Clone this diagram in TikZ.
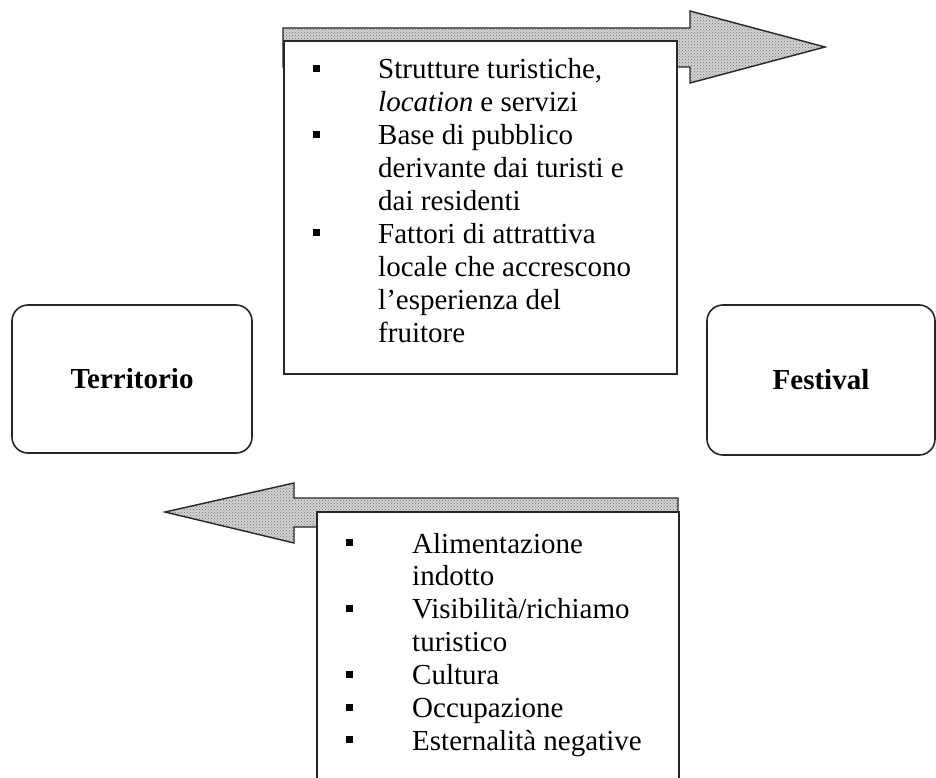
\documentclass[tikz,border=0pt]{standalone}
\usepackage{fontspec}
\setmainfont{Liberation Serif}
\usetikzlibrary{patterns}
\newcommand\sqb[1]{\makebox[#1][l]{\raisebox{7pt}{\rule{7pt}{7pt}}}}
\newcommand\gap[1]{\hspace*{#1}}
\tikzset{
  boxline/.style={draw=black!85, line width=1.6pt},
  endbox/.style={boxline, rounded corners=16pt, minimum width=240pt, minimum height=148pt,
    font=\fontsize{29}{34}\selectfont\bfseries, inner sep=0pt},
  listbox/.style={boxline, fill=white, inner sep=0pt, anchor=north west},
  blockarrow/.style={draw=black!85, line width=1.4pt, line join=miter,
    preaction={fill=gray!35}, pattern=crosshatch dots, pattern color=black!55},
  listtext/.style={anchor=base west, inner sep=0pt}
}
\begin{document}
\begin{tikzpicture}[x=1pt,y=-1pt]
\useasboundingbox (0,0) rectangle (936,778);
\clip (0,0) rectangle (936,778);
\fill[white] (0,0) rectangle (936,778);
% top block arrow (towards Festival)
\draw[blockarrow] (283,28) -- (690,28) -- (690,11) -- (825,47) -- (690,83) -- (690,67) -- (283,67) -- cycle;
\node[listbox, minimum width=393pt, minimum height=333pt] (topbox) at (283,40) {};
\node[listtext] (toptext) at (313,79) {\begin{minipage}[t]{380pt}\fontsize{29}{32.9}\selectfont
\sqb{65pt}Strutture turistiche,\\
\gap{65pt}\textit{location} e servizi\\
\sqb{65pt}Base di pubblico\\
\gap{65pt}derivante dai turisti e\\
\gap{65pt}dai residenti\\
\sqb{65pt}Fattori di attrattiva\\
\gap{65pt}locale che accrescono\\
\gap{65pt}l’esperienza del\\
\gap{65pt}fruitore
\end{minipage}};
% bottom block arrow (towards Territorio)
\draw[blockarrow] (678,498) -- (294,498) -- (294,483) -- (165,512) -- (294,543) -- (294,527) -- (678,527) -- cycle;
\node[listbox, minimum width=362pt, minimum height=300pt] (botbox) at (316,511) {};
\node[listtext] (bottext) at (346,553) {\begin{minipage}[t]{340pt}\fontsize{29}{32.9}\selectfont
\sqb{66pt}Alimentazione\\
\gap{66pt}indotto\\
\sqb{66pt}Visibilità/richiamo\\
\gap{66pt}turistico\\
\sqb{66pt}Cultura\\
\sqb{66pt}Occupazione\\
\sqb{66pt}Esternalità negative
\end{minipage}};
% end boxes
\node[endbox] (terr) at (132,379) {Territorio};
\node[endbox, minimum width=228pt, minimum height=150pt] (fest) at (821,380) {Festival};
\end{tikzpicture}
\end{document}
